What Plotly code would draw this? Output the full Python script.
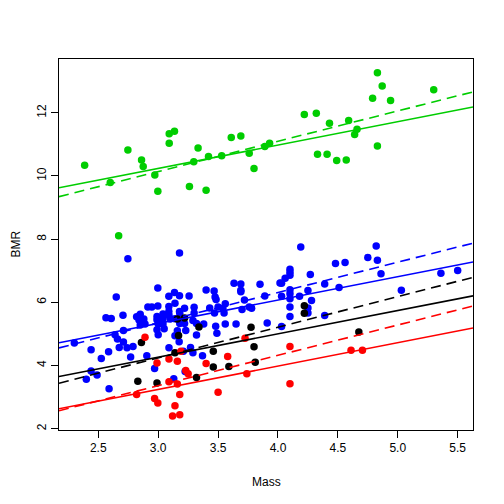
import plotly.graph_objects as go

# Mass / BMR points by group
green_mass = [2.386, 2.60, 2.747, 2.861, 2.875, 2.972, 2.997, 3.092, 3.136, 3.092,
              3.261, 3.297, 3.333, 3.40, 3.42, 3.53, 3.61, 3.69, 3.76, 3.80,
              3.89, 3.93, 4.22, 4.32, 4.33, 4.41, 4.43, 4.49, 4.57, 4.59,
              4.66, 4.64, 4.79, 4.83, 4.87, 4.83, 4.94, 5.30, 2.67]
green_bmr = [10.34, 9.79, 10.82, 10.51, 10.30, 10.03, 9.52, 11.34, 11.42, 11.04,
             9.67, 10.45, 10.89, 9.55, 10.62, 10.64, 11.22, 11.27, 10.72, 10.24,
             10.93, 11.04, 11.95, 11.99, 10.69, 10.69, 11.67, 10.49, 10.51, 11.76,
             11.48, 11.31, 12.46, 13.27, 12.85, 10.95, 12.39, 12.73, 8.11]

blue_mass = [2.747, 3.178, 4.19, 4.82, 4.75, 4.83, 4.48, 4.56, 4.10, 4.10,
             4.10, 4.06, 4.03, 4.27, 4.86, 5.36, 5.50, 4.39, 4.10, 4.10,
             4.10, 4.03, 4.18, 4.25, 4.28, 4.51, 5.03, 4.10, 4.10, 4.03,
             4.25, 4.25, 4.39,
             2.997, 2.65, 2.564, 2.608, 2.706, 3.089, 3.136, 3.178, 3.258, 3.40,
             3.467, 3.475, 3.483, 3.633, 3.69, 3.69, 3.69, 3.85, 4.017, 3.72, 3.89,
             2.914, 2.947, 2.997, 3.089, 3.089, 3.14, 3.178, 3.22, 3.30, 3.30,
             3.43, 3.50, 3.54, 3.56, 3.47, 3.55, 3.70, 3.76, 3.78,
             2.85, 2.82, 2.84, 2.88, 2.89, 2.85, 2.99, 2.99, 3.0, 2.99,
             3.0, 3.04, 3.04, 3.04, 3.05, 3.09, 3.10, 3.14, 3.18, 3.18,
             3.16, 3.23, 3.22, 3.29, 3.32, 3.38, 3.32, 3.48, 3.56, 3.65,
             3.91, 3.14, 3.49,
             2.71, 2.64, 2.66, 2.71,
             2.30, 2.44, 2.675, 2.74, 2.79, 3.09, 3.175, 3.27,
             2.525, 2.586, 2.77, 2.905, 2.97, 3.21, 3.29, 3.37, 3.13, 3.225,
             2.59, 2.44, 2.49, 2.40]
blue_bmr = [7.38, 7.56, 7.75, 7.78, 7.42, 7.33, 7.23, 7.26, 7.05, 6.95,
            6.86, 6.76, 6.60, 6.88, 6.90, 6.92, 7.01, 6.58, 6.40, 6.27,
            6.11, 6.19, 6.19, 6.37, 6.06, 6.47, 6.38, 5.85, 5.55, 5.23,
            5.82, 5.66, 5.58,
            6.45, 6.17, 5.51, 5.49, 5.59, 6.19, 6.31, 6.21, 6.20, 6.39,
            6.36, 6.17, 6.09, 6.60, 6.58, 6.38, 6.33, 6.57, 6.61, 6.07, 6.20,
            5.85, 5.85, 5.88, 5.87, 5.71, 5.97, 5.71, 5.81, 5.84, 5.66,
            5.82, 5.85, 5.81, 5.95, 5.66, 5.66, 5.77, 5.85, 5.81,
            5.62, 5.54, 5.44, 5.47, 5.31, 5.28, 5.55, 5.45, 5.31, 5.13,
            4.97, 5.63, 5.49, 5.31, 5.16, 5.59, 5.47, 5.48, 5.65, 5.33,
            5.10, 5.11, 5.33, 5.42, 5.33, 5.31, 4.96, 5.24, 5.31, 5.31,
            5.34, 4.94, 5.02,
            5.11, 4.97, 4.84, 4.74,
            4.71, 4.50, 4.57, 4.56, 4.60, 4.56, 4.75, 4.57,
            4.22, 4.43, 4.27, 4.31, 3.90, 4.45, 4.40, 4.31, 3.58, 3.81,
            3.26, 3.82, 3.70, 3.56]

black_mass = [2.86, 2.83, 2.99, 3.17, 3.14, 3.22, 3.16, 3.34, 3.46, 3.46,
              3.59, 3.32, 3.775, 3.80, 3.81, 4.22, 4.22, 4.675]
black_bmr = [4.73, 3.50, 3.44, 4.95, 4.40, 5.50, 5.47, 5.22, 4.45, 3.95,
             3.97, 3.62, 5.21, 4.59, 4.10, 5.89, 5.65, 5.06]

red_mass = [2.89, 2.99, 3.09, 3.16, 3.09, 3.16, 2.97, 2.997, 3.14, 3.12,
            3.18, 3.19, 3.23, 3.25, 3.40, 3.58, 3.74, 3.725, 3.18, 3.50,
            2.82, 4.10, 4.10, 4.61, 4.705]
red_bmr = [4.89, 4.08, 4.20, 4.13, 3.48, 3.41, 2.95, 2.81, 2.72, 2.40,
           2.44, 4.45, 3.84, 3.74, 4.06, 4.28, 3.74, 4.86, 3.08, 3.15,
           3.08, 4.60, 3.42, 4.48, 4.48]

# fitted lines per group: solid = common slope, dashed = separate fits
groups = ["blue", "green", "black", "red"]
colors = {"blue": "#0000FF", "green": "#00CD00", "black": "#000000", "red": "#FF0000"}
solid_intercept = {"green": 8.02, "blue": 3.11, "black": 2.04, "red": 1.02}
solid_slope = {"green": 0.74, "blue": 0.74, "black": 0.74, "red": 0.74}
dashed_intercept = {"green": 7.26, "blue": 2.47, "black": 1.33, "red": 0.48}
dashed_slope = {"green": 0.96, "blue": 0.96, "black": 0.97, "red": 0.96}

points = {
    "blue": (blue_mass, blue_bmr),
    "green": (green_mass, green_bmr),
    "black": (black_mass, black_bmr),
    "red": (red_mass, red_bmr),
}

x_range = [2.172, 5.628]
y_range = [1.955, 13.705]

fig = go.Figure()

for g in groups:
    xs, ys = points[g]
    fig.add_trace(go.Scatter(x=xs, y=ys, mode="markers",
                             marker=dict(color=colors[g], size=7.5, line=dict(width=0))))

for g in groups:
    for icpt, slope, dash in [(solid_intercept, solid_slope, "solid"),
                              (dashed_intercept, dashed_slope, "10px,6px")]:
        fig.add_trace(go.Scatter(
            x=x_range,
            y=[icpt[g] + slope[g] * x for x in x_range],
            mode="lines",
            line=dict(color=colors[g], width=1.6, dash=dash),
        ))

axis_common = dict(
    showgrid=False, zeroline=False, automargin=False,
    showline=True, linecolor="black", linewidth=1, mirror=True,
    ticks="outside", ticklen=7, tickcolor="black", tickwidth=1,
    tickfont=dict(size=12, color="black"),
)

# the page body adds an 8px offset, so margins are shifted to compensate
fig.update_layout(
    width=504, height=504,
    margin=dict(l=51, r=39, t=51, b=82),
    paper_bgcolor="white", plot_bgcolor="white",
    showlegend=False,
    font=dict(family="Liberation Sans, Arial, sans-serif", size=12, color="black"),
    xaxis=dict(range=x_range, tickvals=[2.5, 3.0, 3.5, 4.0, 4.5, 5.0, 5.5],
               ticktext=["2.5", "3.0", "3.5", "4.0", "4.5", "5.0", "5.5"],
               **axis_common),
    yaxis=dict(range=y_range, tickvals=[2, 4, 6, 8, 10, 12], tickangle=-90,
               **axis_common),
    annotations=[
        dict(text="Mass", xref="paper", yref="paper", x=0.5, y=0,
             yshift=-52, showarrow=False, yanchor="middle", font=dict(size=12)),
        dict(text="BMR", xref="paper", yref="paper", x=0, y=0.5, textangle=-90,
             xshift=-44, showarrow=False, xanchor="center", font=dict(size=12)),
    ],
)

fig.write_html("out.html")
